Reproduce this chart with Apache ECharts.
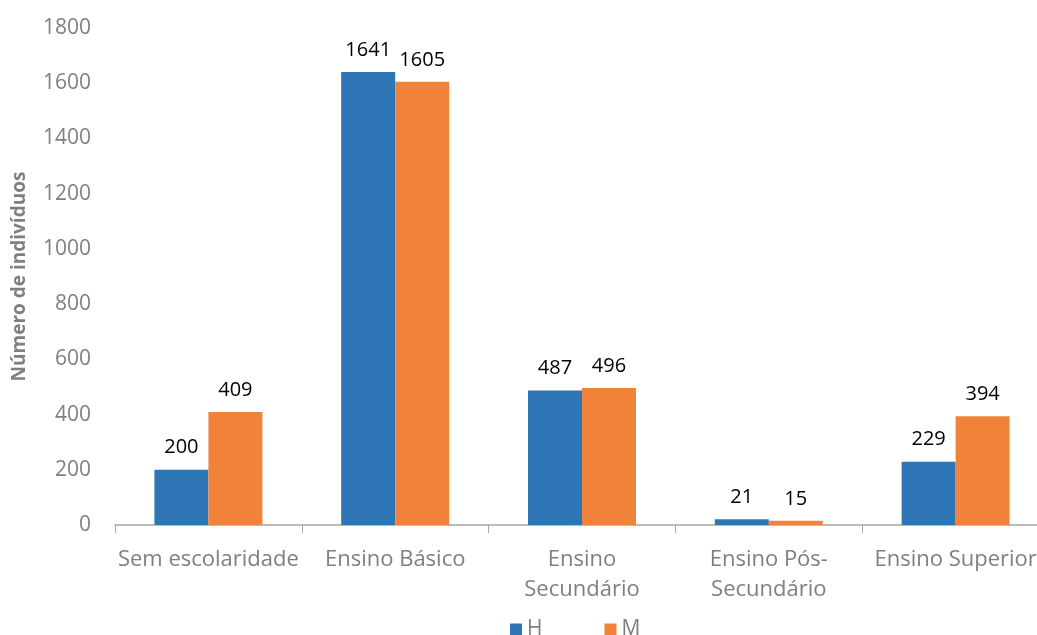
<!DOCTYPE html>
<html>
<head>
<meta charset="utf-8">
<script src="https://cdn.jsdelivr.net/npm/echarts@6/dist/echarts.min.js"></script>
<style>
  html, body { margin: 0; padding: 0; background: #fff; }
  #chart { width: 1037px; height: 635px; }
</style>
</head>
<body>
<div id="chart"></div>
<script>
const categories = ['Sem escolaridade', 'Ensino Básico', 'Ensino\nSecundário', 'Ensino Pós-\nSecundário', 'Ensino Superior']
const homens = [200, 1641, 487, 21, 229]
const mulheres = [409, 1605, 496, 15, 394]
const seriesNames = ['H', 'M']

const font = '"Open Sans", "Noto Sans", sans-serif'
const chart = echarts.init(document.getElementById('chart'))

chart.setOption({
  backgroundColor: '#fff',
  textStyle: { fontFamily: font },
  // plot runs a little past the right edge, like the original
  grid: { left: 115, width: 934, top: 28, bottom: 110, containLabel: false, outerBoundsMode: 'none' },
  legend: {
    data: seriesNames,
    top: 614,
    left: 505,
    itemWidth: 12,
    itemHeight: 12,
    itemGap: 62,
    icon: 'rect',
    textStyle: { color: '#7f7f7f', fontSize: 21, fontFamily: font }
  },
  xAxis: {
    type: 'category',
    data: categories,
    axisLine: { lineStyle: { color: '#a6a6a6', width: 1.5 } },
    axisTick: { show: true, length: 8, lineStyle: { color: '#a6a6a6' } },
    axisLabel: { color: '#7f7f7f', fontSize: 22, margin: 20, lineHeight: 30, interval: 0 }
  },
  yAxis: {
    type: 'value',
    min: 0,
    max: 1800,
    interval: 200,
    name: 'Número de indivíduos',
    nameLocation: 'middle',
    nameGap: 86,
    nameTextStyle: { color: '#7f7f7f', fontSize: 19, fontWeight: 'bold', fontFamily: font },
    axisLine: { show: false },
    axisTick: { show: false },
    splitLine: { show: false },
    axisLabel: { color: '#7f7f7f', fontSize: 21, margin: 24, formatter: v => String(v) }
  },
  series: [
    {
      name: seriesNames[0],
      type: 'bar',
      data: homens,
      barWidth: 54,
      barGap: '0%',
      itemStyle: { color: '#2e75b6' },
      label: { show: true, position: 'top', distance: 12, color: '#000', fontSize: 20 }
    },
    {
      name: seriesNames[1],
      type: 'bar',
      data: mulheres,
      barWidth: 54,
      itemStyle: { color: '#f0823a' },
      label: { show: true, position: 'top', distance: 12, color: '#000', fontSize: 20 }
    }
  ]
})

window.addEventListener('resize', () => chart.resize())
</script>
</body>
</html>
